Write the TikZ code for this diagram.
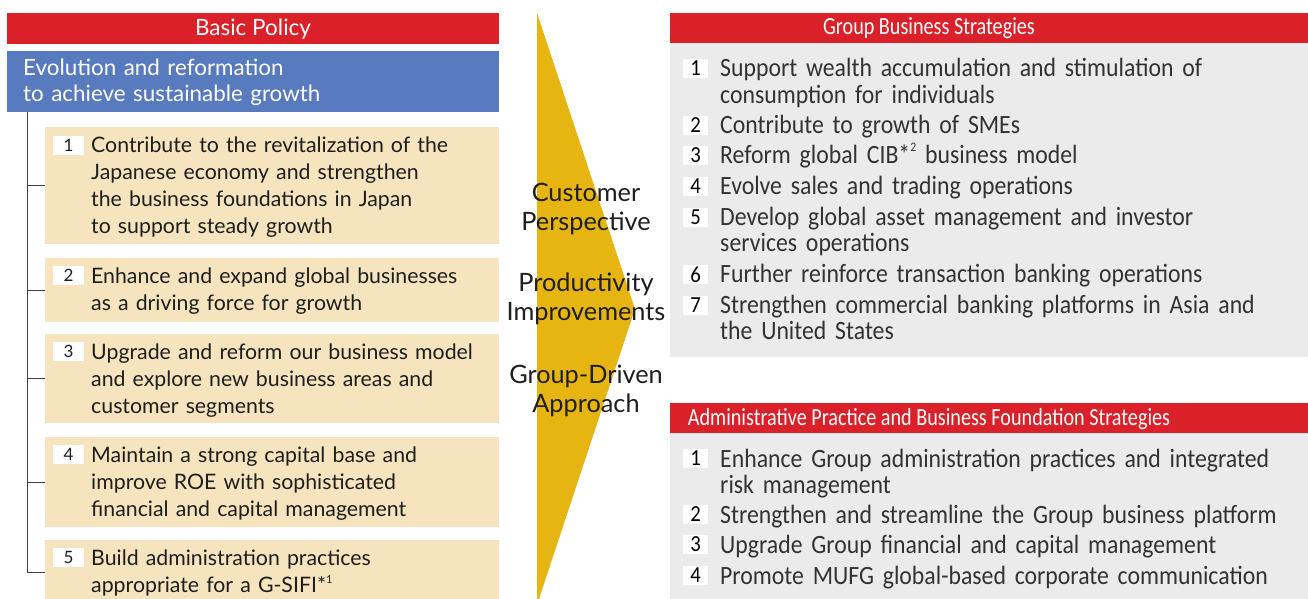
\documentclass[tikz,border=0pt]{standalone}
\usepackage{fontspec}
\setmainfont{Lato}
\newfontfamily\rfont[FakeStretch=0.9]{Carlito}
\newfontfamily\hfont[FakeStretch=0.82]{Carlito}
\definecolor{redc}{RGB}{218,32,40}
\definecolor{bluec}{RGB}{88,122,190}
\definecolor{beigec}{RGB}{245,228,190}
\definecolor{grayc}{RGB}{235,235,235}
\definecolor{yellowc}{RGB}{230,181,18}
\definecolor{ltxt}{RGB}{30,30,30}
\definecolor{rtxt}{RGB}{50,50,50}
\newcommand{\supnum}[2]{\raisebox{0.42em}{\fontsize{#1}{#1}\selectfont #2}}
\begin{document}
\begin{tikzpicture}[x=1pt,y=-1pt,
  panel/.style={inner sep=0pt, outer sep=0pt, anchor=north west},
  bar/.style={panel, fill=redc},
  beigebox/.style={panel, fill=beigec, minimum width=454pt},
  graybox/.style={panel, fill=grayc, minimum width=650pt},
  headtxt/.style={inner sep=0pt, anchor=base, text=white},
  ltext/.style={inner sep=0pt, anchor=base west, text width=405pt, align=left,
    text=ltxt, font=\fontsize{21.3}{27}\selectfont},
  rtext/.style={inner sep=0pt, anchor=base west, text width=585pt, align=left,
    text=rtxt, font=\rfont\fontsize{26.4}{26.5}\selectfont},
  lnum/.style={fill=white, inner sep=0pt, minimum width=31pt, minimum height=19pt,
    text=ltxt, font=\fontsize{17}{17}\selectfont},
  rnum/.style={fill=white, inner sep=0pt, minimum width=25pt, minimum height=19pt,
    text=black, font=\rfont\fontsize{23}{23}\selectfont},
  arrtxt/.style={inner sep=0pt, anchor=base, text width=180pt, align=center,
    text=ltxt, font=\fontsize{25.3}{29.5}\selectfont},
  spine/.style={draw=black!75, line width=1pt}
]
\clip (0,0) rectangle (1308,599);
\fill[white] (0,0) rectangle (1308,599);

% ---------- left column ----------
\node[bar, minimum width=492pt, minimum height=31pt] (bp) at (7,13) {};
\node[headtxt, font=\fontsize{22.5}{22.5}\selectfont] (bpt) at (253,36) {Basic Policy};
\node[panel, fill=bluec, minimum width=492pt, minimum height=61pt] (ev) at (7,51) {};
\node[inner sep=0pt, anchor=base west, text width=470pt, align=left, text=white,
  font=\fontsize{22.4}{26}\selectfont] (evt) at (23,76)
  {Evolution and reformation\\to achieve sustainable growth};

\node[beigebox, minimum height=117pt] (b1) at (45,127) {};
\node[beigebox, minimum height=64pt] (b2) at (45,258) {};
\node[beigebox, minimum height=89pt] (b3) at (45,334) {};
\node[beigebox, minimum height=90pt] (b4) at (45,437) {};
\node[beigebox, minimum height=64pt] (b5) at (45,540) {};

\coordinate (sp) at (27,112);
\draw[spine] (sp) |- (b5.west);
\draw[spine] (sp |- b1.west) -- (b1.west);
\draw[spine] (sp |- b2.west) -- (b2.west);
\draw[spine] (sp |- b3.west) -- (b3.west);
\draw[spine] (sp |- b4.west) -- (b4.west);

\node[lnum] (n1) at (68.5,145.5) {1};
\node[ltext] (t1) at (91,153) {Contribute to the revitalization of the\\Japanese economy and strengthen\\the business foundations in Japan\\to support steady growth};
\node[lnum] (n2) at (68.5,275.5) {2};
\node[ltext] (t2) at (91,283) {Enhance and expand global businesses\\as a driving force for growth};
\node[lnum] (n3) at (68.5,351.5) {3};
\node[ltext] (t3) at (91,359) {Upgrade and reform our business model\\and explore new business areas and\\customer segments};
\node[lnum] (n4) at (68.5,454.5) {4};
\node[ltext] (t4) at (91,462) {Maintain a strong capital base and\\improve ROE with sophisticated\\financial and capital management};
\node[lnum] (n5) at (68.5,557.5) {5};
\node[ltext] (t5) at (91,565) {Build administration practices\\appropriate for a G-SIFI*\supnum{11}{1}};

% ---------- arrow ----------
\fill[yellowc] (537,13) -- (635,309) -- (537,605) -- cycle;
\node[arrtxt] (a1) at (586,201) {Customer\\Perspective};
\node[arrtxt] (a2) at (586,291) {Productivity\\Improvements};
\node[arrtxt] (a3) at (586,383) {Group-Driven\\Approach};

% ---------- right column ----------
\node[bar, minimum width=650pt, minimum height=30pt] (gb) at (670,13) {};
\node[graybox, minimum height=314pt] (gbox) at (670,43) {};
\node[headtxt, font=\hfont\fontsize{24.6}{24.6}\selectfont] (gbt) at (929,35) {Group Business Strategies};

\node[rnum] (r1) at (695.5,68.5) {1};
\node[rtext] (s1) at (720,77) {Support wealth accumulation and stimulation of\\consumption for individuals};
\node[rnum] (r2) at (695.5,125.5) {2};
\node[rtext] (s2) at (720,133) {Contribute to growth of SMEs};
\node[rnum] (r3) at (695.5,155.5) {3};
\node[rtext] (s3) at (720,163) {Reform global CIB*\supnum{13}{2} business model};
\node[rnum] (r4) at (695.5,186.5) {4};
\node[rtext] (s4) at (720,194) {Evolve sales and trading operations};
\node[rnum] (r5) at (695.5,217.5) {5};
\node[rtext] (s5) at (720,225) {Develop global asset management and investor\\services operations};
\node[rnum] (r6) at (695.5,274.5) {6};
\node[rtext] (s6) at (720,282) {Further reinforce transaction banking operations};
\node[rnum] (r7) at (695.5,305.5) {7};
\node[rtext] (s7) at (720,313) {Strengthen commercial banking platforms in Asia and\\the United States};

\node[bar, minimum width=650pt, minimum height=30pt] (ab) at (670,403) {};
\node[graybox, minimum height=180pt] (abox) at (670,433) {};
\node[headtxt, font=\hfont\fontsize{24.6}{24.6}\selectfont] (abt) at (929,425) {Administrative Practice and Business Foundation Strategies};

\node[rnum] (q1) at (695.5,458.5) {1};
\node[rtext] (u1) at (720,467) {Enhance Group administration practices and integrated\\risk management};
\node[rnum] (q2) at (695.5,514.5) {2};
\node[rtext] (u2) at (720,523) {Strengthen and streamline the Group business platform};
\node[rnum] (q3) at (695.5,544.5) {3};
\node[rtext] (u3) at (720,553) {Upgrade Group financial and capital management};
\node[rnum] (q4) at (695.5,575.5) {4};
\node[rtext] (u4) at (720,584) {Promote MUFG global-based corporate communication};
\end{tikzpicture}
\end{document}
